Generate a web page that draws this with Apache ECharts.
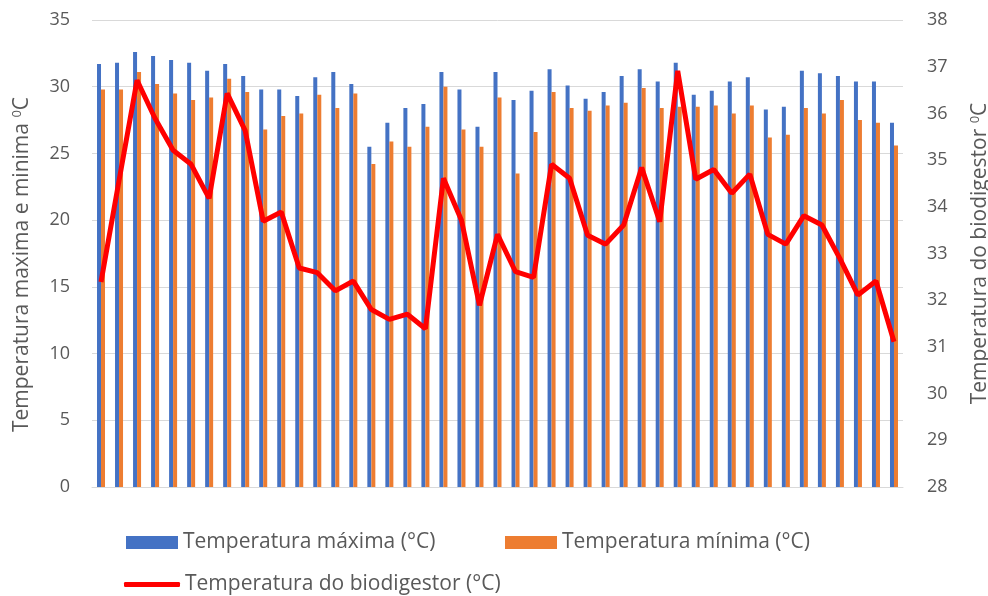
<!DOCTYPE html>
<html>
<head>
<meta charset="utf-8">
<script src="https://cdn.jsdelivr.net/npm/echarts@6/dist/echarts.min.js"></script>
<style>html,body{margin:0;padding:0;background:#fff}#c{width:988px;height:596px}</style>
</head>
<body>
<div id="c"></div>
<script>
const categories = Array.from({length: 45}, (_, i) => String(i + 1));
const tempMax = [31.7,31.8,32.6,32.3,32.0,31.8,31.2,31.7,30.8,29.8,29.8,29.3,30.7,31.1,30.2,25.5,27.3,28.4,28.7,31.1,29.8,27.0,31.1,29.0,29.7,31.3,30.1,29.1,29.6,30.8,31.3,30.4,31.8,29.4,29.7,30.4,30.7,28.3,28.5,31.2,31.0,30.8,30.4,30.4,27.3];
const tempMin = [29.8,29.8,31.1,30.2,29.5,29.0,29.2,30.6,29.6,26.8,27.8,28.0,29.4,28.4,29.5,24.2,25.9,25.5,27.0,30.0,26.8,25.5,29.2,23.5,26.6,29.6,28.4,28.2,28.6,28.8,29.9,28.4,28.5,28.5,28.6,28.0,28.6,26.2,26.4,28.4,28.0,29.0,27.5,27.3,25.6];
const tempBio = [32.39,34.56,36.71,35.89,35.21,34.91,34.18,36.43,35.63,33.69,33.89,32.69,32.59,32.2,32.41,31.8,31.59,31.7,31.39,34.61,33.71,31.89,33.41,32.61,32.49,34.91,34.61,33.39,33.2,33.61,34.84,33.68,36.91,34.59,34.8,34.29,34.7,33.41,33.2,33.81,33.61,32.89,32.11,32.41,31.11];
const leftTicks = [0, 35, 5];
const rightTicks = [28, 38, 1];

const txt = '#595959';
const font = '"Open Sans", Lato, sans-serif';
const chart = echarts.init(document.getElementById('c'), null, {renderer: 'canvas'});
function nameStyle(pad) {
  return {
    color: txt, fontSize: 21, fontFamily: font, padding: pad,
    rich: {
      a: {color: txt, fontSize: 21, fontFamily: font},
      sup: {color: txt, fontSize: 13, fontFamily: font, verticalAlign: 'top', padding: [0, 0, 10, 0]}
    }
  };
}
const legText = {color: txt, fontSize: 21, fontFamily: font};
chart.setOption({
  animation: false,
  textStyle: {fontFamily: font},
  grid: {left: 92, right: 85, top: 20, bottom: 109, containLabel: false, outerBoundsMode: 'none'},
  legend: [
    {data: [{name: 'Temperatura máxima (°C)', icon: 'rect'}], left: 121, top: 527, itemWidth: 52, itemHeight: 13, textStyle: legText},
    {data: [{name: 'Temperatura mínima (°C)', icon: 'rect'}], left: 500, top: 527, itemWidth: 52, itemHeight: 13, textStyle: legText},
    {data: [{name: 'Temperatura do biodigestor (°C)', icon: 'roundRect'}], left: 119, top: 569, itemWidth: 56, itemHeight: 5, textStyle: legText}
  ],
  xAxis: {
    type: 'category', data: categories,
    axisLine: {lineStyle: {color: '#d9d9d9', width: 1}},
    axisTick: {show: false}, axisLabel: {show: false}
  },
  yAxis: [
    {type: 'value', min: leftTicks[0], max: leftTicks[1], interval: leftTicks[2],
     name: '{a|Temperatura maxima e minima }{sup|0}{a|C}', nameLocation: 'middle', nameGap: 58, nameTextStyle: nameStyle([0, 22, 0, 0]),
     axisLine: {show: false}, axisTick: {show: false},
     axisLabel: {color: txt, fontSize: 18, fontFamily: font, margin: 22},
     splitLine: {lineStyle: {color: '#d9d9d9', width: 1}}},
    {type: 'value', min: rightTicks[0], max: rightTicks[1], interval: rightTicks[2],
     name: '{a|Temperatura do biodigestor }{sup|0}{a|C}', nameLocation: 'middle', nameGap: 66, nameTextStyle: nameStyle([0, 0, 0, 0]),
     axisLine: {show: false}, axisTick: {show: false},
     axisLabel: {color: txt, fontSize: 18, fontFamily: font, margin: 24},
     splitLine: {show: false}}
  ],
  series: [
    {name: 'Temperatura máxima (°C)', type: 'bar', data: tempMax, barWidth: 4, barGap: '0%', itemStyle: {color: '#4472c4'}},
    {name: 'Temperatura mínima (°C)', type: 'bar', data: tempMin, barWidth: 4, barGap: '0%', itemStyle: {color: '#ed7d31'}},
    {name: 'Temperatura do biodigestor (°C)', type: 'line', yAxisIndex: 1, data: tempBio, showSymbol: false, symbol: 'none',
     lineStyle: {color: '#ff0000', width: 5}, itemStyle: {color: '#ff0000'}}
  ]
});
</script>
</body>
</html>
